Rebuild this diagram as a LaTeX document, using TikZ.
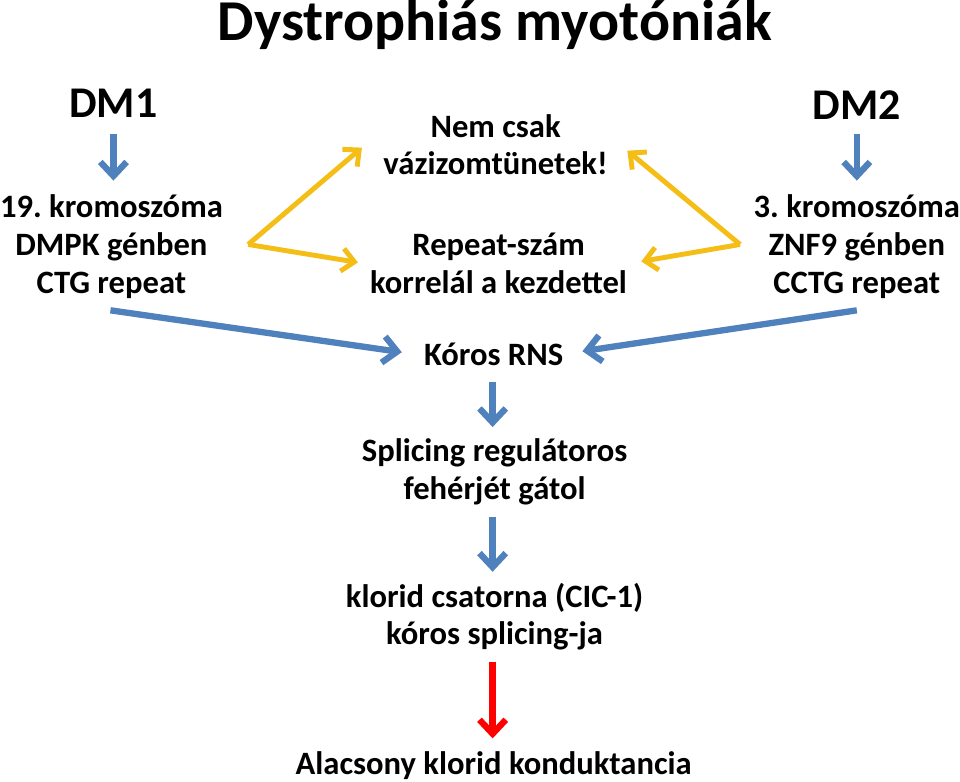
\documentclass[tikz,border=0pt]{standalone}
\usepackage{fontspec}
\setmainfont{Carlito}
\usetikzlibrary{arrows.meta}
\definecolor{ablue}{HTML}{4F81BD}
\definecolor{ayellow}{HTML}{F5BE16}
\definecolor{ared}{HTML}{FF0000}
\frenchspacing
\begin{document}
\begin{tikzpicture}[x=0.02cm,y=-0.02cm,
  txt/.style={font=\bfseries\fontsize{18.6}{21.5}\selectfont,align=center,inner sep=0pt},
  big/.style={font=\bfseries\fontsize{25}{30}\selectfont,inner sep=0pt},
  ttl/.style={font=\bfseries\fontsize{33}{38}\selectfont,inner sep=0pt},
  barrow/.style={draw=ablue,line width=3.6pt,-{Straight Barb[length=8pt,width=15pt]}},
  yarrow/.style={draw=ayellow,line width=2.8pt,-{Straight Barb[length=7pt,width=13pt]}},
  rarrow/.style={draw=ared,line width=3.6pt,-{Straight Barb[length=8pt,width=15pt]}}]
\fill[white] (0,0) rectangle (960,783);
\node[ttl] (title) at (495,25) {Dystrophiás myotóniák};
\node[big] (dm1) at (113,103) {DM1};
\node[big] (dm2) at (858,105) {DM2};
\node[txt] (l) at (111,247) {19. kromoszóma\\DMPK génben\\CTG repeat};
\node[txt] (r) at (858,247) {3. kromoszóma\\ZNF9 génben\\CCTG repeat};
\node[txt] (nem) at (496,145) {Nem csak\\vázizomtünetek!};
\node[txt] (rep) at (499,264) {Repeat-szám\\korrelál a kezdettel};
\node[txt] (rns) at (494,355) {Kóros RNS};
\node[txt] (spl) at (495,473) {Splicing regulátoros\\fehérjét gátol};
\node[txt] (klo) at (495,618) {klorid csatorna (CIC-1)\\kóros splicing-ja};
\node[txt] (ala) at (494,767) {Alacsony klorid konduktancia};
% coordinates for arrow ends
\coordinate (a1s) at (113,134); \coordinate (a1e) at (113,181);
\coordinate (a2s) at (858,134); \coordinate (a2e) at (858,181);
\coordinate (vl) at (248,245); \coordinate (vr) at (741,245);
\coordinate (nl) at (362,148); \coordinate (nr) at (628,151);
\coordinate (rl) at (358,263); \coordinate (rr) at (642,262);
\coordinate (ls) at (110,311); \coordinate (le) at (402,353);
\coordinate (rs) at (858,311); \coordinate (re) at (583,352);
\coordinate (b1s) at (493,383); \coordinate (b1e) at (493,428);
\coordinate (b2s) at (493,518); \coordinate (b2e) at (493,573);
\coordinate (b3s) at (493,663); \coordinate (b3e) at (493,740);
\draw[barrow] (a1s) -- (a1e);
\draw[barrow] (a2s) -- (a2e);
\draw[yarrow] (vl) -- (nl);
\draw[yarrow] (vl) -- (rl);
\draw[yarrow] (vr) -- (nr);
\draw[yarrow] (vr) -- (rr);
\draw[barrow] (ls) -- (le);
\draw[barrow] (rs) -- (re);
\draw[barrow] (b1s) -- (b1e);
\draw[barrow] (b2s) -- (b2e);
\draw[rarrow] (b3s) -- (b3e);
\end{tikzpicture}
\end{document}
